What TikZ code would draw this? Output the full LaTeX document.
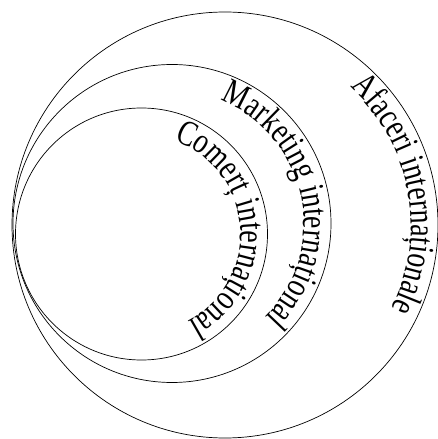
\documentclass[tikz,border=0pt]{standalone}
\usepackage{fontspec}
\usepackage{tikz}
\usetikzlibrary{decorations.text}
\newfontfamily\arcserif[FakeStretch=0.77]{Liberation Serif}

\begin{document}
\begin{tikzpicture}[x=1pt,y=1pt,
    ring/.style={draw=black,line width=0.7pt},
    ringtext/.style={decorate,decoration={text along path,text align=center,
      text={|\arcserif\fontsize{36}{40}\selectfont|#1}}}]
  \useasboundingbox (0,0) rectangle (437,439);
  \coordinate (Afaceri) at (225,214);
  \coordinate (Marketing) at (172,215.5);
  \coordinate (Comert) at (141.5,205);
  \draw[ring] (Afaceri) circle[radius=213pt];
  \draw[ring] (Marketing) circle[radius=159pt];
  \draw[ring] (Comert) circle[radius=126pt];
  % text runs clockwise inside each circle
  \path[ringtext={Afaceri internaționale}] (Afaceri) ++(80.5:186pt)
    arc[start angle=80.5,end angle=-59.5,radius=186pt];
  \path[ringtext={Marketing internațional}] (Marketing) ++(91.7:132pt)
    arc[start angle=91.7,end angle=-68.3,radius=132pt];
  \path[ringtext={Comerț internațional}] (Comert) ++(84.25:99pt)
    arc[start angle=84.25,end angle=-75.75,radius=99pt];
\end{tikzpicture}
\end{document}
